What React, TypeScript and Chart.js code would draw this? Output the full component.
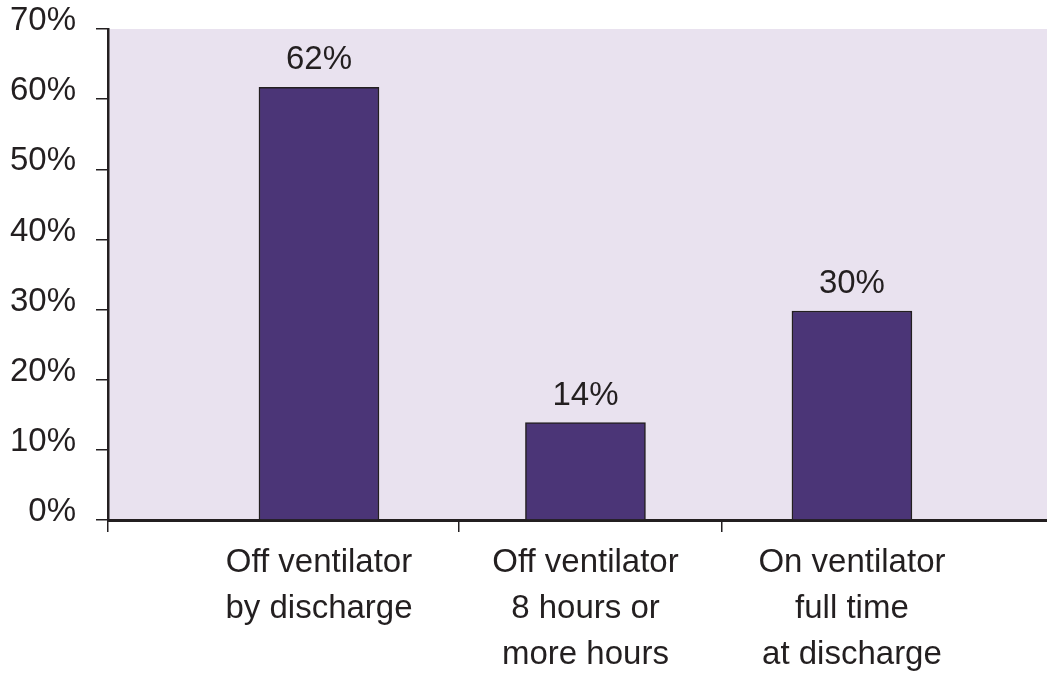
import React, { useEffect, useRef } from "react";
import { Chart, registerables } from "chart.js";

Chart.register(...registerables);

const categories: string[][] = [
  ["Off ventilator", "by discharge"],
  ["Off ventilator", "8 hours or", "more hours"],
  ["On ventilator", "full time", "at discharge"],
];
const values: number[] = [61.7, 13.9, 29.8];
const valueLabels: string[] = ["62%", "14%", "30%"];
const categoryPositions: number[] = [1, 2, 3];
const dividerPositions: number[] = [0.2083, 1.525, 2.512];
const yTicks: number[] = [0, 10, 20, 30, 40, 50, 60, 70];

const X_MIN = 0.2083;
const X_MAX = 3.732;
const INK = "#231f20";

const bgPlugin = {
  id: "plotBg",
  beforeDraw(chart: any) {
    const { ctx, chartArea } = chart;
    ctx.save();
    ctx.fillStyle = "#e9e2ef";
    ctx.fillRect(chartArea.left, chartArea.top, chartArea.right - chartArea.left, chartArea.bottom - chartArea.top);
    ctx.restore();
  },
};

const valueLabelPlugin = {
  id: "valueLabels",
  afterDatasetsDraw(chart: any) {
    const { ctx } = chart;
    const meta = chart.getDatasetMeta(0);
    ctx.save();
    ctx.fillStyle = INK;
    ctx.font = "33px 'Liberation Sans', Arial, sans-serif";
    ctx.textAlign = "center";
    ctx.textBaseline = "alphabetic";
    meta.data.forEach((bar: any, i: number) => {
      ctx.fillText(valueLabels[i], bar.x, bar.y - 18);
    });
    ctx.restore();
  },
};

export default function App() {
  const ref = useRef<HTMLCanvasElement | null>(null);
  useEffect(() => {
    if (!ref.current) return;
    const chart = new Chart(ref.current, {
      type: "bar",
      data: {
        datasets: [
          {
            data: values.map((v, i) => ({ x: categoryPositions[i], y: v })),
            backgroundColor: "#4b3577",
            borderColor: INK,
            borderWidth: 1.5,
            barThickness: 120,
            xAxisID: "x",
            yAxisID: "y",
          } as any,
        ],
      },
      options: {
        animation: false,
        responsive: false,
        layout: { padding: { top: 29, left: 0, right: 0, bottom: 0 } },
        plugins: { legend: { display: false }, tooltip: { enabled: false } },
        scales: {
          x: {
            type: "linear",
            position: "bottom",
            weight: 1,
            offset: false,
            min: X_MIN,
            max: X_MAX,
            afterBuildTicks: (s: any) => {
              s.ticks = categoryPositions.map((v) => ({ value: v }));
            },
            afterFit: (s: any) => {
              s.height = 676 - 532;
              s.paddingLeft = 0;
              s.paddingRight = 0;
            },
            grid: { display: false, drawTicks: false, offset: false },
            border: { display: false },
            ticks: {
              autoSkip: false,
              maxRotation: 0,
              padding: 8,
              color: INK,
              font: { family: "'Liberation Sans', Arial, sans-serif", size: 33, lineHeight: 1.394 },
              callback: (v: any) => {
                const idx = categoryPositions.indexOf(Number(v));
                return idx >= 0 ? categories[idx] : "";
              },
            },
          },
          x2: {
            type: "linear",
            position: "bottom",
            weight: 0,
            offset: false,
            min: X_MIN,
            max: X_MAX,
            afterBuildTicks: (s: any) => {
              s.ticks = dividerPositions.map((v) => ({ value: v }));
            },
            afterFit: (s: any) => {
              s.height = 12;
              s.paddingLeft = 0;
              s.paddingRight = 0;
            },
            grid: { drawOnChartArea: false, drawTicks: true, tickLength: 12, color: INK, lineWidth: 1.5, offset: false },
            border: { display: true, color: INK, width: 3 },
            ticks: { display: false },
          },
          y: {
            min: 0,
            max: 70,
            afterBuildTicks: (s: any) => {
              s.ticks = yTicks.map((v) => ({ value: v }));
            },
            afterFit: (s: any) => {
              s.width = 108;
              s.paddingTop = 0;
              s.paddingBottom = 0;
            },
            grid: { drawOnChartArea: false, drawTicks: true, tickLength: 12, color: INK, lineWidth: 1.5 },
            border: { display: true, color: INK, width: 2.5 },
            ticks: {
              padding: 20,
              color: INK,
              labelOffset: -8,
              font: { family: "'Liberation Sans', Arial, sans-serif", size: 33 },
              callback: (v: any) => v + "%",
            },
          },
        },
      },
      plugins: [bgPlugin, valueLabelPlugin],
    } as any);
    return () => chart.destroy();
  }, []);
  return (
    <div style={{ position: "absolute", left: 0, top: 0, width: 1047, height: 676, background: "#fff" }}>
      <canvas ref={ref} width={1047} height={676} style={{ display: "block" }} />
    </div>
  );
}
